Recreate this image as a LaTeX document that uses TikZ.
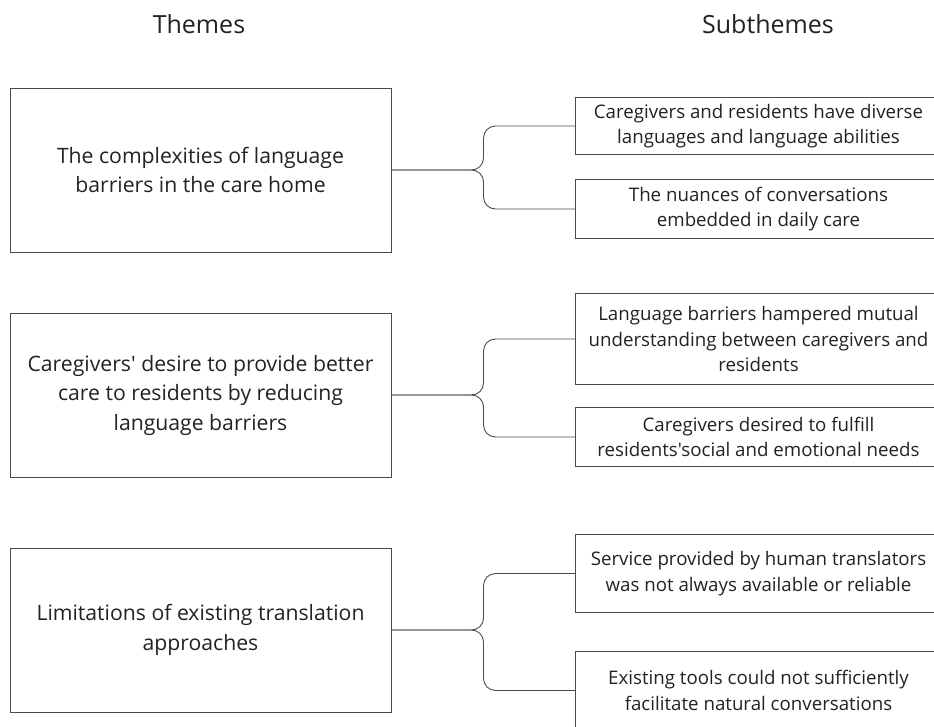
\documentclass[tikz,border=0pt]{standalone}
\usepackage{fontspec}
\setmainfont{Open Sans}[Ligatures=TeXOff]
\usetikzlibrary{positioning,calc}
\definecolor{boxgray}{HTML}{4A4A4A}
\definecolor{textgray}{HTML}{222222}

\begin{document}
\begin{tikzpicture}[x=1pt,y=-1pt,
    theme/.style={draw=boxgray, line width=1pt, minimum width=381pt, minimum height=164pt,
      inner sep=0pt, align=center, text=textgray, font=\fontsize{21.2}{29.5}\selectfont},
    sub/.style={draw=boxgray, line width=1pt, minimum width=366pt, anchor=north west,
      inner sep=0pt, align=center, text=textgray, font=\fontsize{18.7}{25.5}\selectfont},
    head/.style={inner sep=0pt, text=textgray, font=\fontsize{25}{28}\selectfont},
    link/.style={draw=boxgray, line width=0.9pt, rounded corners=12pt}]
    % page is 934 x 726, right column runs off the edge
    \useasboundingbox (0,0) rectangle (934,726);
    \clip (0,0) rectangle (934,726);

    \node[head] (hthemes) at (199,24) {Themes};
    \node[head] (hsub) at (768,24) {Subthemes};

    % themes
    \node[theme] (t1) at (200.5,170) {The complexities of language\\barriers in the care home};
    \node[theme] (t2) at (200.5,395) {Caregivers' desire to provide better\\care to residents by reducing\\language barriers};
    \node[theme] (t3) at (200.5,630) {Limitations of existing translation\\approaches};

    % subthemes
    \node[sub, minimum height=57pt] (s1) at (575,97) {Caregivers and residents have diverse\\languages and language abilities};
    \node[sub, minimum height=59pt] (s2) at (575,179) {The nuances of conversations\\embedded in daily care};
    \node[sub, minimum height=91pt] (s3) at (575,293) {Language barriers hampered mutual\\understanding between caregivers and\\residents};
    \node[sub, minimum height=59pt] (s4) at (575,407) {Caregivers desired to fulfill\\residents'social and emotional needs};
    \node[sub, minimum height=78pt] (s5) at (575,534) {Service provided by human translators\\was not always available or reliable};
    \node[sub, minimum height=78pt] (s6) at (575,651) {Existing tools could not sufficiently\\facilitate natural conversations};

    % brace points
    \coordinate (b1) at ($(t1.east)+(92,0)$);
    \coordinate (b2) at ($(t2.east)+(92,0)$);
    \coordinate (b3) at ($(t3.east)+(92,0)$);

    \draw[link] (t1.east) -- (b1) |- (s1.west);
    \draw[link] (t1.east) -- (b1) |- (s2.west);
    \draw[link] (t2.east) -- (b2) |- (s3.west);
    \draw[link] (t2.east) -- (b2) |- (s4.west);
    \draw[link] (t3.east) -- (b3) |- (s5.west);
    \draw[link] (t3.east) -- (b3) |- (s6.west);
\end{tikzpicture}
\end{document}
